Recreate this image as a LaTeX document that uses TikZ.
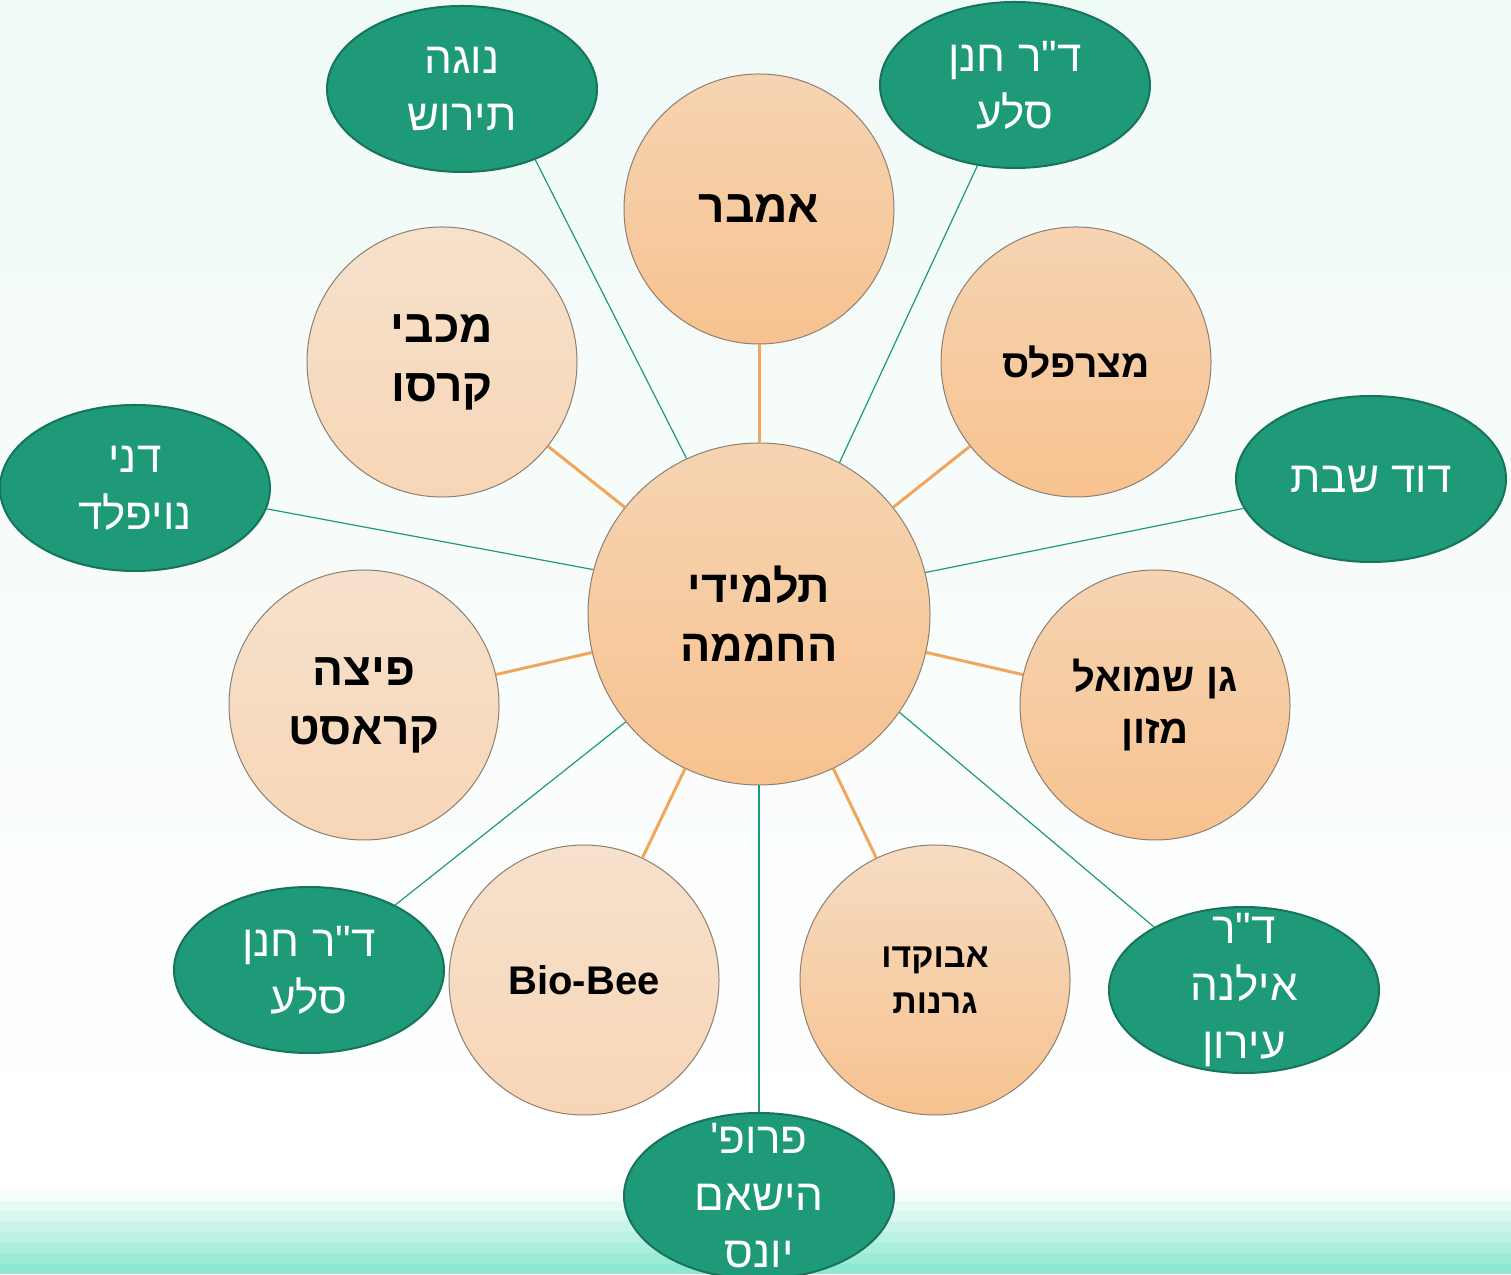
\documentclass[tikz,border=0pt]{standalone}
\usepackage{fontspec}
\usetikzlibrary{shapes.geometric}
\newfontfamily\hebfont[Script=Hebrew]{Liberation Sans}
\TeXXeTstate=1
\newcommand\heb[1]{\beginR#1\endR}
\definecolor{bgtop}{HTML}{F0FAF7}
\definecolor{strip}{HTML}{8CE8CF}
\definecolor{peachA}{HTML}{F6D4B2}
\definecolor{peachB}{HTML}{F7C28F}
\definecolor{paleA}{HTML}{F6E1CC}
\definecolor{paleB}{HTML}{F7D6B6}
\definecolor{rim}{HTML}{8F7F70}
\definecolor{tutor}{HTML}{1E9A78}
\definecolor{tutorrim}{HTML}{17735A}
\definecolor{link}{HTML}{F2A65C}
\begin{document}
\begin{tikzpicture}[x=1pt,y=1pt,
	firm/.style={circle,draw=rim,line width=1pt,top color=peachA,bottom color=peachB,
		minimum size=270pt,inner sep=0pt,align=center,
		font=\hebfont\bfseries\fontsize{46}{59}\selectfont},
	palefirm/.style={firm,top color=paleA,bottom color=paleB},
	tutorbox/.style={ellipse,draw=tutorrim,line width=2pt,fill=tutor,text=white,
		minimum width=270pt,minimum height=166pt,inner sep=0pt,align=center,
		font=\hebfont\fontsize{44}{57}\selectfont},
	tutortext/.style={text=white,align=center,font=\hebfont\fontsize{44}{57}\selectfont},
	firmlink/.style={link,line width=3pt},
	tutorlink/.style={tutor,line width=1.2pt}]
	\useasboundingbox(0,0)rectangle(1511,1274);
	\shade[top color=bgtop,bottom color=white](0,84)rectangle(1511,1274);
	\foreach \i in {0,...,7}{
		\pgfmathtruncatemacro\p{8+13*\i}
		\fill[strip!\p!white](0,{84-10.5*(\i+1)})rectangle(1511,{84-10.5*\i});
	}
	\node[firm,minimum size=342pt,font=\hebfont\bfseries\fontsize{45}{59}\selectfont](hub)at(759,660){\heb{תלמידי}\\\heb{החממה}};
	\node[firm](amber)at(759,1065){\heb{אמבר}};
	\node[firm,font=\hebfont\bfseries\fontsize{39}{52}\selectfont](mizraf)at(1076,912){\heb{מצרפלס}};
	\node[palefirm](maccabi)at(442,912){\heb{מכבי}\\\heb{קרסו}};
	\node[palefirm](pizza)at(364,569){\heb{פיצה}\\\heb{קראסט}};
	\node[firm,font=\hebfont\bfseries\fontsize{40}{52}\selectfont](gan)at(1155,569){\heb{גן שמואל}\\\heb{מזון}};
	\node[palefirm,font=\bfseries\fontsize{40}{50}\selectfont\hebfont](biobee)at(584,294){Bio-Bee};
	\node[firm,top color=paleA!60!peachA,font=\hebfont\bfseries\fontsize{34}{46}\selectfont](avocado)at(935,294){\heb{אבוקדו}\\\heb{גרנות}};
	\node[tutorbox](noga)at(462,1185){\heb{נוגה}\\\heb{תירוש}};
	\node[tutorbox](hanan)at(1015,1189){\heb{ד"ר חנן}\\\heb{סלע}};
	\node[tutorbox](dani)at(135,786){\heb{דני}\\\heb{נויפלד}};
	\node[tutorbox](david)at(1371,795){\heb{דוד שבת}};
	\node[tutorbox](hanantwo)at(309,304){\heb{ד"ר חנן}\\\heb{סלע}};
	\node[tutorbox,label={[tutortext]center:{\heb{ד"ר}\\\heb{אילנה}\\\heb{עירון}}}](ilana)at(1244,284){};
	\node[tutorbox,label={[tutortext]center:{\heb{פרופ'}\\\heb{הישאם}\\\heb{יונס}}}](hisham)at(759,78){};
	\foreach \f in {amber,mizraf,maccabi,pizza,gan,biobee,avocado}
	\draw[firmlink](hub)--(\f);
	\draw[tutorlink](noga.-44)--(hub.115);
	\draw[tutorlink](hanan.245)--(hub.62);
	\draw[tutorlink](dani.-9)--(hub.165);
	\draw[tutorlink](david.193)--(hub.14);
	\draw[tutorlink](hanantwo.37)--(hub.219);
	\draw[tutorlink](ilana.145)--(hub.-35);
	\draw[tutorlink](hub.south)--(hisham.north);
\end{tikzpicture}
\end{document}
